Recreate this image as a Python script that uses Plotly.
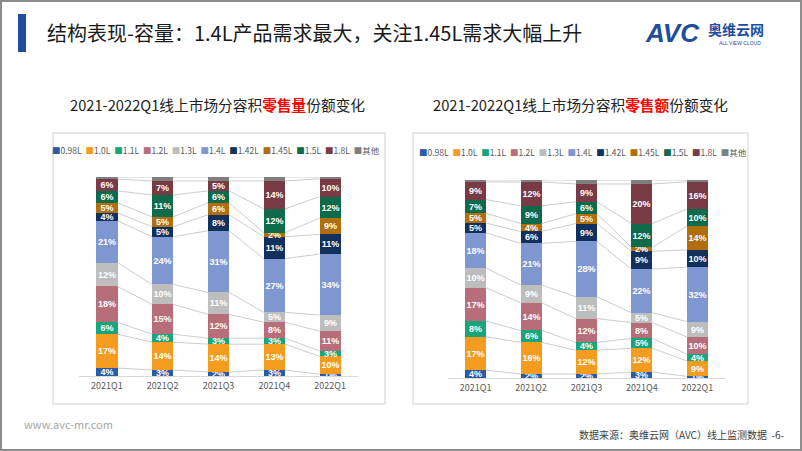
import plotly.graph_objects as go

W, H = 802, 451

quarters = ["2021Q1", "2021Q2", "2021Q3", "2021Q4", "2022Q1"]
series = ["0.98L", "1.0L", "1.1L", "1.2L", "1.3L", "1.4L", "1.42L", "1.45L", "1.5L", "1.8L", "其他"]
colors = ["#2B5BA6", "#F39C1F", "#17A57A", "#B86E78", "#BDBDBD", "#7F97D1",
          "#12305E", "#B16E0C", "#0D6B4C", "#783A44", "#7F7F7F"]

# 零售量 share (%) per capacity, per quarter
vol_0_98 = [4, 3, 2, 3, 1]
vol_1_0 = [17, 14, 14, 13, 10]
vol_1_1 = [6, 4, 3, 3, 3]
vol_1_2 = [18, 15, 12, 8, 11]
vol_1_3 = [12, 10, 11, 5, 9]
vol_1_4 = [21, 24, 31, 27, 34]
vol_1_42 = [4, 5, 8, 11, 11]
vol_1_45 = [5, 5, 6, 2, 9]
vol_1_5 = [6, 11, 6, 12, 12]
vol_1_8 = [6, 7, 5, 14, 10]
vol_other = [1, 2, 2, 2, 1]

# 零售额 share (%) per capacity, per quarter
amt_0_98 = [4, 2, 2, 3, 1]
amt_1_0 = [17, 16, 12, 12, 9]
amt_1_1 = [8, 6, 4, 5, 4]
amt_1_2 = [17, 14, 12, 8, 10]
amt_1_3 = [10, 9, 11, 5, 9]
amt_1_4 = [18, 21, 28, 22, 32]
amt_1_42 = [5, 6, 9, 9, 10]
amt_1_45 = [5, 4, 5, 2, 14]
amt_1_5 = [7, 9, 6, 12, 10]
amt_1_8 = [9, 12, 9, 20, 16]
amt_other = [1, 1, 2, 2, 1]

vol = [vol_0_98, vol_1_0, vol_1_1, vol_1_2, vol_1_3, vol_1_4, vol_1_42, vol_1_45, vol_1_5, vol_1_8, vol_other]
amt = [amt_0_98, amt_1_0, amt_1_1, amt_1_2, amt_1_3, amt_1_4, amt_1_42, amt_1_45, amt_1_5, amt_1_8, amt_other]

BAR_W = 0.38
FONT = "Noto Sans CJK SC"

fig = go.Figure()


def px_x(p):
    return p / W


def px_y(p):
    return 1 - p / H


def add_chart(data, xa, ya):
    xs = list(range(len(quarters)))
    for name, vals, col in zip(series, data, colors):
        fig.add_trace(go.Bar(
            x=xs, y=vals, name=name, width=BAR_W,
            marker=dict(color=col, line=dict(width=0)),
            text=[("" if name == "其他" else f"{v}%") for v in vals],
            textposition="inside", insidetextanchor="middle", textangle=0,
            textfont=dict(color="white", size=9, family="Liberation Sans", weight="bold"),
            xaxis=xa, yaxis=ya, showlegend=False, hoverinfo="skip"))
    # series lines connecting segment tops between adjacent bars
    totals = [sum(s[i] for s in data) for i in xs]
    lx, ly = [], []
    cum = [0.0] * len(xs)
    for s in data:
        cum = [cum[i] + s[i] for i in xs]
        norm = [cum[i] / totals[i] * 100 for i in xs]
        for i in xs[:-1]:
            lx += [i + BAR_W / 2, i + 1 - BAR_W / 2, None]
            ly += [norm[i], norm[i + 1], None]
    fig.add_trace(go.Scatter(x=lx, y=ly, mode="lines",
                             line=dict(color="#BFBFBF", width=0.8),
                             xaxis=xa, yaxis=ya, showlegend=False, hoverinfo="skip"))


add_chart(vol, "x", "y")
add_chart(amt, "x2", "y2")

axis_common = dict(range=[-0.5, 4.5], tickvals=list(range(5)), ticktext=quarters,
                   showgrid=False, zeroline=False, showline=True, linecolor="#D9D9D9",
                   linewidth=1, ticks="", ticklabelstandoff=1,
                   tickfont=dict(size=9, color="#595959", family=FONT))
yaxis_common = dict(range=[0, 100], visible=False, showgrid=False)

fig.update_layout(
    width=W, height=H, margin=dict(l=0, r=0, t=0, b=0),
    paper_bgcolor="white", plot_bgcolor="rgba(0,0,0,0)",
    barmode="stack", barnorm="percent", bargap=0,
    uniformtext=dict(minsize=9, mode="show"),
    xaxis=dict(domain=[px_x(79), px_x(358)], anchor="y", **axis_common),
    yaxis=dict(domain=[px_y(376), px_y(177)], anchor="x", **yaxis_common),
    xaxis2=dict(domain=[px_x(448), px_x(725)], anchor="y2", **axis_common),
    yaxis2=dict(domain=[px_y(378), px_y(180)], anchor="x2", **yaxis_common),
    font=dict(family=FONT),
)

shapes = [
    # slide frame
    dict(type="rect", xref="paper", yref="paper", x0=px_x(1), x1=px_x(801), y0=px_y(450), y1=px_y(1),
         line=dict(color="#8C8C8C", width=2)),
    # title bar
    dict(type="rect", xref="paper", yref="paper", x0=px_x(18), x1=px_x(26), y0=px_y(52), y1=px_y(14),
         fillcolor="#1F4E9E", line=dict(width=0)),
    # chart boxes
    dict(type="rect", xref="paper", yref="paper", x0=px_x(53), x1=px_x(385), y0=px_y(404), y1=px_y(133),
         line=dict(color="#D0D0D0", width=1)),
    dict(type="rect", xref="paper", yref="paper", x0=px_x(413), x1=px_x(748), y0=px_y(404), y1=px_y(133),
         line=dict(color="#D0D0D0", width=1)),
]
fig.update_layout(shapes=shapes)

legend_text = "&nbsp; ".join(f'<span style="color:{c}">■</span>{n}' for n, c in zip(series, colors))

ann = [
    dict(x=px_x(45), y=px_y(33), text="结构表现-容量：1.4L产品需求最大，关注1.45L需求大幅上升",
         xanchor="left", yanchor="middle", font=dict(size=20, color="#1a1a1a", family=FONT)),
    dict(x=px_x(672), y=px_y(33), text="<b><i>AVC</i></b>", xanchor="center", yanchor="middle",
         font=dict(size=26, color="#1F4E9E", family="Liberation Sans")),
    dict(x=px_x(736), y=px_y(29), text="<b>奥维云网</b>", xanchor="center", yanchor="middle",
         font=dict(size=14, color="#1F4E9E", family=FONT)),
    dict(x=px_x(740), y=px_y(43), text="ALL VIEW CLOUD", xanchor="center", yanchor="middle",
         font=dict(size=5, color="#1F4E9E", family="Liberation Sans")),
    dict(x=px_x(217), y=px_y(104),
         text='2021-2022Q1线上市场分容积<span style="color:#FF0000"><b>零售量</b></span>份额变化',
         xanchor="center", yanchor="middle", font=dict(size=14.7, color="#222222", family=FONT)),
    dict(x=px_x(580), y=px_y(104),
         text='2021-2022Q1线上市场分容积<span style="color:#FF0000"><b>零售额</b></span>份额变化',
         xanchor="center", yanchor="middle", font=dict(size=14.7, color="#222222", family=FONT)),
    dict(x=px_x(216), y=px_y(150), text=legend_text, xanchor="center", yanchor="middle",
         font=dict(size=8.5, color="#595959", family=FONT)),
    dict(x=px_x(583), y=px_y(152), text=legend_text, xanchor="center", yanchor="middle",
         font=dict(size=8.5, color="#595959", family=FONT)),
    dict(x=px_x(22), y=px_y(424), text="www.avc-mr.com", xanchor="left", yanchor="middle",
         font=dict(size=11, color="#A6A6A6", family=FONT)),
    dict(x=px_x(786), y=px_y(434), text="数据来源：奥维云网（AVC）线上监测数据  -6-", xanchor="right",
         yanchor="middle", font=dict(size=10, color="#404040", family=FONT)),
]
for a in ann:
    a.update(xref="paper", yref="paper", showarrow=False)
fig.update_layout(annotations=ann)

fig.write_html("out.html", config={"displayModeBar": False},
               post_script="document.body.style.margin='0';")
